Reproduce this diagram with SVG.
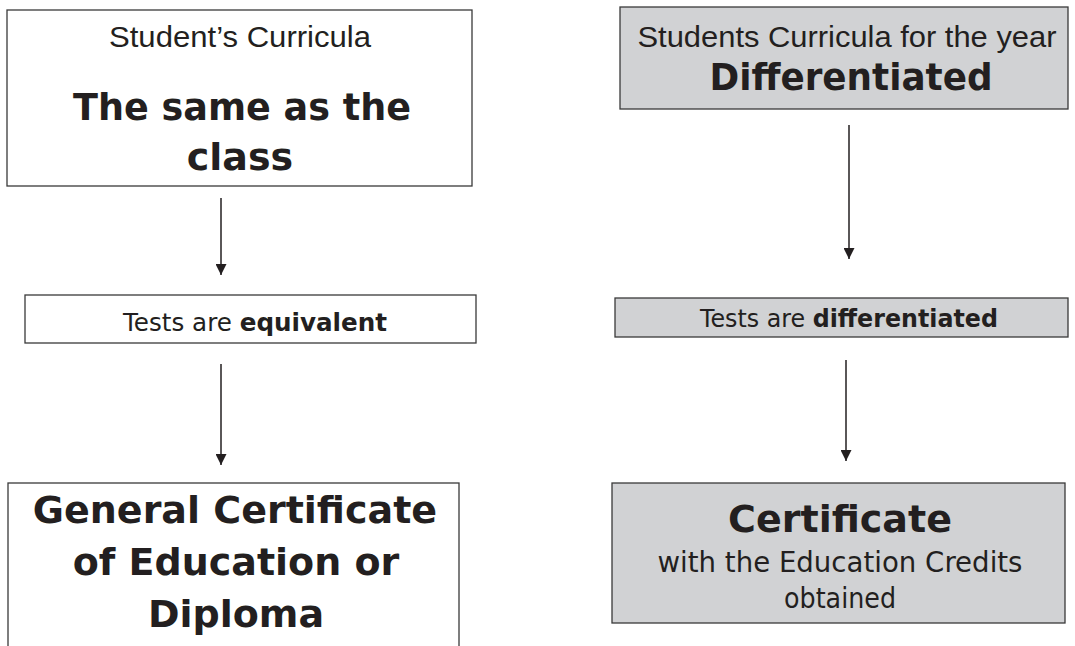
<svg xmlns="http://www.w3.org/2000/svg" width="1075" height="646" viewBox="0 0 1075 646">
<style>
.box{fill:#fff;stroke:#3a3a3a;stroke-width:1.3}
.gray{fill:#d1d2d4;stroke:#3a3a3a;stroke-width:1.3}
.ar{font-family:"Liberation Sans",Arial,sans-serif;font-size:30px;fill:#231f20;text-anchor:middle}
.big{font-family:"DejaVu Sans",Verdana,sans-serif;font-weight:bold;font-size:38px;fill:#231f20;text-anchor:middle}
.ta{font-family:"DejaVu Sans",Verdana,sans-serif;font-size:25px;fill:#231f20;text-anchor:middle}
.tb{font-weight:bold}
.conn{stroke:#231f20;stroke-width:1.5;fill:none;marker-end:url(#ah)}
</style>
<defs>
<marker id="ah" viewBox="0 0 10 10" refX="10" refY="5" markerWidth="11" markerHeight="11" markerUnits="userSpaceOnUse" orient="auto">
<path d="M0,0 L10,5 L0,10 z" fill="#231f20"/>
</marker>
</defs>
<rect width="1075" height="646" fill="#fff"/>
<g id="connectors">
<line class="conn" x1="221" y1="198" x2="221" y2="275"/>
<line class="conn" x1="849" y1="125" x2="849" y2="259"/>
<line class="conn" x1="221" y1="364" x2="221" y2="465"/>
<line class="conn" x1="846" y1="360" x2="846" y2="461"/>
</g>
<g id="node-same">
<rect class="box" x="7" y="10" width="465" height="176"/>
<text class="ar" x="240" y="47" textLength="262" lengthAdjust="spacingAndGlyphs">Student’s Curricula</text>
<text class="big" x="242" y="120" textLength="338" lengthAdjust="spacingAndGlyphs">The same as the</text>
<text class="big" x="240" y="170">class</text>
</g>
<g id="node-diff">
<rect class="gray" x="620" y="7" width="448" height="102"/>
<text class="ar" x="847" y="47" textLength="419" lengthAdjust="spacingAndGlyphs">Students Curricula for the year</text>
<text class="big" x="851" y="90" textLength="283" lengthAdjust="spacingAndGlyphs">Differentiated</text>
</g>
<g id="node-tests-eq">
<rect class="box" x="25" y="295" width="451" height="48"/>
<text class="ta" x="255" y="331" textLength="264" lengthAdjust="spacingAndGlyphs">Tests are <tspan class="tb">equivalent</tspan></text>
</g>
<g id="node-tests-diff">
<rect class="gray" x="615" y="298" width="453" height="39"/>
<text class="ta" x="849" y="327" textLength="298" lengthAdjust="spacingAndGlyphs">Tests are <tspan class="tb">differentiated</tspan></text>
</g>
<g id="node-gce">
<rect class="box" x="8" y="483" width="451" height="175"/>
<text class="big" x="235" y="523">General Certificate</text>
<text class="big" x="236" y="575">of Education or</text>
<text class="big" x="236" y="627">Diploma</text>
</g>
<g id="node-cert">
<rect class="gray" x="612" y="483" width="453" height="140"/>
<text class="big" x="840" y="532">Certificate</text>
<text class="ta" x="840" y="572" style="font-size:28px" textLength="365" lengthAdjust="spacingAndGlyphs">with the Education Credits</text>
<text class="ta" x="840" y="608" style="font-size:28px" textLength="112" lengthAdjust="spacingAndGlyphs">obtained</text>
</g>
</svg>
